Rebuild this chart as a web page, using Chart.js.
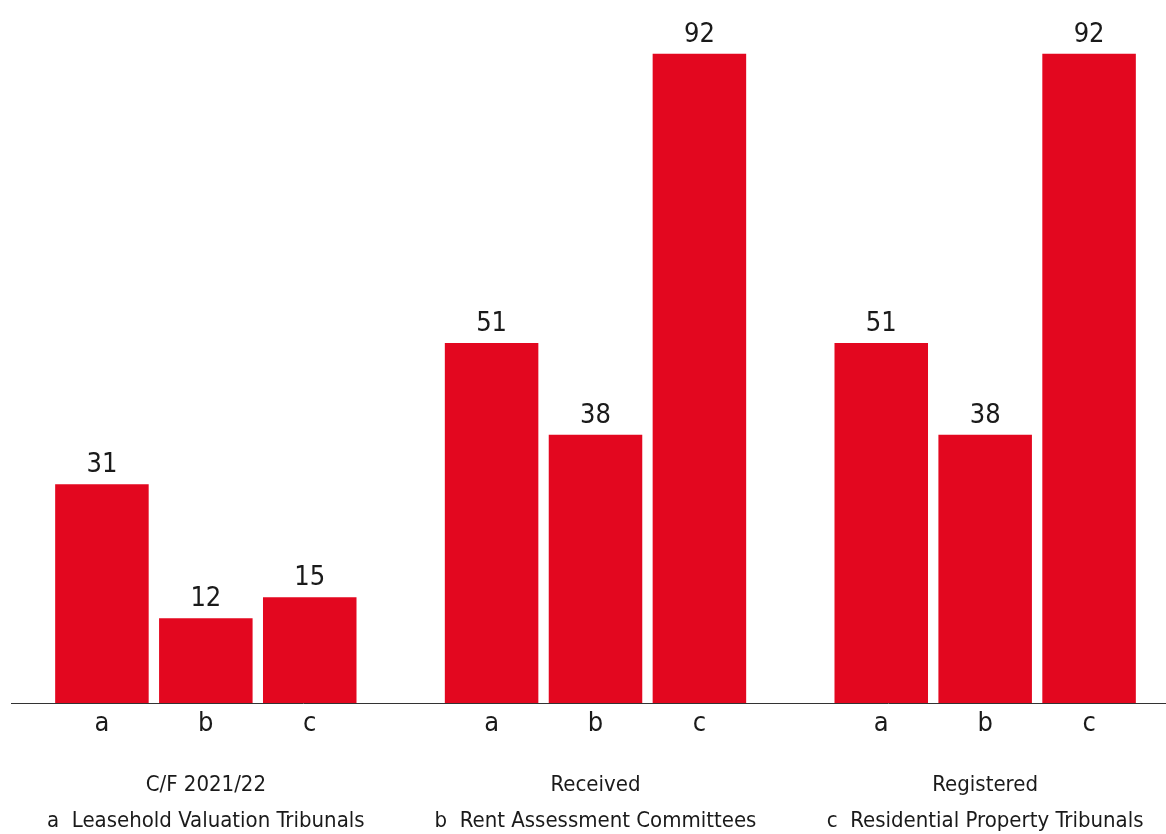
<!DOCTYPE html>
<html>
<head>
<meta charset="utf-8">
<script src="https://cdn.jsdelivr.net/npm/chart.js@4"></script>
<style>
  html, body { margin: 0; padding: 0; background: #fff; overflow: hidden; }
  #wrap { position: relative; width: 1181px; height: 834px; }
</style>
</head>
<body>
<div id="wrap"><canvas id="chart"></canvas></div>
<script>
const categories = ["C/F 2021/22", "Received", "Registered"];
const legendLines = ["a  Leasehold Valuation Tribunals", "b  Rent Assessment Committees", "c  Residential Property Tribunals"];
const seriesLetters = ["a", "b", "c"];
const seriesA = [31, 51, 51];
const seriesB = [12, 38, 38];
const seriesC = [15, 92, 92];

const RED = "#e3071f";
const TEXT = "#1a1a1a";
const FONT = "'Liberation Sans Narrow', 'DejaVu Sans Condensed', 'Roboto', sans-serif";

// value above each bar and series letter under it
const barText = {
    id: "barText",
    afterDatasetsDraw(chart) {
        const ctx = chart.ctx;
        const bottom = chart.chartArea.bottom;
        ctx.save();
        ctx.fillStyle = TEXT;
        ctx.textAlign = "center";
        ctx.textBaseline = "alphabetic";
        ctx.font = "27px " + FONT;
        chart.data.datasets.forEach((ds, i) => {
            chart.getDatasetMeta(i).data.forEach((bar, j) => {
                ctx.fillText(String(ds.data[j]), bar.x, bar.y - 12);
                ctx.fillText(seriesLetters[i], bar.x, bottom + 28);
            });
        });
        ctx.restore();
    }
};

new Chart(document.getElementById("chart"), {
    type: "bar",
    data: {
        labels: categories.map((c, i) => [c, legendLines[i]]),
        datasets: [
            { label: seriesLetters[0], data: seriesA, backgroundColor: RED },
            { label: seriesLetters[1], data: seriesB, backgroundColor: RED },
            { label: seriesLetters[2], data: seriesC, backgroundColor: RED }
        ]
    },
    options: {
        responsive: true,
        maintainAspectRatio: false,
        animation: false,
        layout: { padding: { left: 11, right: 1, top: 0, bottom: 0 } },
        plugins: { legend: { display: false }, tooltip: { enabled: false } },
        datasets: { bar: { categoryPercentage: 0.8, barPercentage: 0.9 } },
        scales: {
            x: {
                grid: { display: true, drawOnChartArea: false, drawTicks: false },
                border: { display: true, color: "#333", width: 1 },
                ticks: {
                    color: TEXT,
                    padding: 64,
                    maxRotation: 0,
                    autoSkip: false,
                    font: { family: FONT, size: 22, lineHeight: "36px" }
                },
                afterFit(scale) {
                    scale.height = 131;
                    scale.paddingLeft = 0;
                    scale.paddingRight = 0;
                }
            },
            y: {
                display: false,
                min: 0,
                max: 99.6
            }
        }
    },
    plugins: [barText]
});
</script>
</body>
</html>
